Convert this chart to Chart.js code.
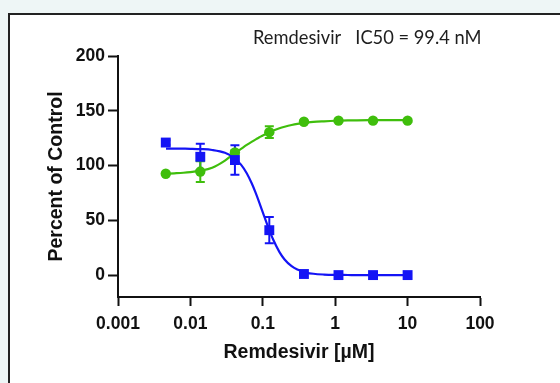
<!DOCTYPE html>
<html>
<head>
<meta charset="utf-8">
<script src="https://cdn.jsdelivr.net/npm/chart.js@4.4.1/dist/chart.umd.min.js"></script>
<style>
    body { margin: 0; width: 560px; height: 383px; overflow: hidden; position: relative; background: #eef6f6; }
    #frame { position: absolute; left: 8px; top: 13px; width: 620px; height: 420px; background: #fff; border-left: 2px solid #222; border-top: 2px solid #222; }
    #chart { position: absolute; left: 0; top: 0; }
</style>
</head>
<body>
<div id="frame"></div>
<canvas id="chart" width="560" height="383"></canvas>
<script>
// concentrations (uM) and measured responses, mean +/- error
var conc = [0.00457, 0.0137, 0.0412, 0.123, 0.370, 1.11, 3.33, 10];
var remdesivir = [121, 108, 105, 41, 1, 0, 0, 0];
var remdesivirErr = [2, 12, 13.5, 12, 0, 0, 0, 0];
var viability = [92.5, 94.5, 112, 130.5, 140, 141, 141, 141];
var viabilityErr = [0, 9.5, 2, 5.3, 1, 0, 0, 0];

// fitted curves, sampled along the concentration axis
var fitConc = [0.0046, 0.006, 0.008, 0.01, 0.014, 0.02, 0.03, 0.04, 0.05, 0.06, 0.07, 0.08, 0.09, 0.1,
    0.12, 0.14, 0.17, 0.2, 0.25, 0.3, 0.4, 0.5, 0.7, 1, 1.5, 2, 3, 5, 7, 10];
var remdesivirFit = [115.5, 115.5, 115.4, 115.3, 115.0, 114.2, 111.6, 107.1, 100.8, 92.9, 84.0, 74.8, 65.7, 57.3,
    42.9, 32.0, 21.0, 14.3, 8.1, 5.0, 2.3, 1.2, 0.5, 0.2, 0.1, 0, 0, 0, 0, 0];
var viabilityFit = [92.5, 92.9, 93.4, 94.0, 95.3, 98.0, 104.5, 110.8, 115.2, 118.8, 121.6, 123.9, 125.8, 127.5,
    130.0, 131.9, 134.0, 135.4, 137.0, 138.0, 139.1, 139.8, 140.4, 140.9, 141.2, 141.3, 141.4, 141.5, 141.5, 141.5];

var xTicks = [0.001, 0.01, 0.1, 1, 10, 100];
var xTickLabels = ['0.001', '0.01', '0.1', '1', '10', '100'];
var yTicks = [0, 50, 100, 150, 200];

var BLUE = '#1414f5';
var GREEN = '#3fbe0c';

function points(xs, ys) {
    return xs.map(function(x, i) { return { x: x, y: ys[i] }; });
}

// vertical error bars with caps, drawn under the markers
var errorBars = {
    id: 'errorBars',
    beforeDatasetsDraw: function(chart) {
        var ctx = chart.ctx;
        var xs = chart.scales.x, ys = chart.scales.y;
        chart.data.datasets.forEach(function(ds) {
            if (!ds.errors) return;
            ctx.save();
            ctx.strokeStyle = ds.borderColor;
            ctx.lineWidth = 2;
            ds.data.forEach(function(p, i) {
                var e = ds.errors[i];
                if (!e) return;
                var px = xs.getPixelForValue(p.x);
                var top = ys.getPixelForValue(p.y + e);
                var bot = ys.getPixelForValue(p.y - e);
                ctx.beginPath();
                ctx.moveTo(px, top); ctx.lineTo(px, bot);
                ctx.moveTo(px - 4.5, top); ctx.lineTo(px + 4.5, top);
                ctx.moveTo(px - 4.5, bot); ctx.lineTo(px + 4.5, bot);
                ctx.stroke();
            });
            ctx.restore();
        });
    }
};

var headline = {
    id: 'headline',
    afterDraw: function(chart) {
        var ctx = chart.ctx;
        ctx.save();
        ctx.font = '18.3px Lato';
        ctx.fillStyle = '#1e1e1e';
        ctx.textAlign = 'left';
        ctx.textBaseline = 'middle';
        ctx.fillText('Remdesivir   IC50 = 99.4 nM', 253, 38);
        ctx.restore();
    }
};

var axisFont = { family: 'Liberation Sans, Arial, sans-serif', weight: 'bold' };

new Chart(document.getElementById('chart').getContext('2d'), {
    type: 'scatter',
    data: {
        datasets: [{
            data: points(conc, remdesivir),
            errors: remdesivirErr,
            pointStyle: 'rect',
            pointRadius: 7,
            backgroundColor: BLUE,
            borderColor: BLUE,
            borderWidth: 0,
            order: 0
        }, {
            data: points(conc, viability),
            errors: viabilityErr,
            pointStyle: 'circle',
            pointRadius: 5.2,
            backgroundColor: GREEN,
            borderColor: GREEN,
            borderWidth: 0,
            order: 1
        }, {
            type: 'line',
            data: points(fitConc, remdesivirFit),
            borderColor: BLUE,
            borderWidth: 2.2,
            pointRadius: 0,
            cubicInterpolationMode: 'monotone',
            order: 2
        }, {
            type: 'line',
            data: points(fitConc, viabilityFit),
            borderColor: GREEN,
            borderWidth: 2.2,
            pointRadius: 0,
            cubicInterpolationMode: 'monotone',
            order: 3
        }]
    },
    options: {
        responsive: false,
        animation: false,
        layout: { padding: { left: 0, top: 56, right: 80, bottom: 0 } },
        plugins: { legend: { display: false }, tooltip: { enabled: false } },
        scales: {
            x: {
                type: 'logarithmic',
                min: 0.001,
                max: 100,
                afterBuildTicks: function(scale) {
                    scale.ticks = xTicks.map(function(v) { return { value: v }; });
                },
                afterFit: function(scale) { scale.height = 86; },
                ticks: {
                    autoSkip: false,
                    maxRotation: 0,
                    padding: 8,
                    color: '#111',
                    font: Object.assign({ size: 17.5 }, axisFont),
                    callback: function(value, index) { return xTickLabels[index]; }
                },
                grid: { drawOnChartArea: false, tickLength: 9, tickWidth: 2, tickColor: '#111' },
                border: { color: '#111', width: 2 },
                title: {
                    display: true,
                    text: 'Remdesivir [\u00b5M]',
                    color: '#111',
                    font: Object.assign({ size: 19.5 }, axisFont),
                    padding: { top: 0, bottom: 19 }
                }
            },
            y: {
                min: -20,
                max: 200,
                afterBuildTicks: function(scale) {
                    scale.ticks = yTicks.map(function(v) { return { value: v }; });
                },
                afterFit: function(scale) { scale.width = 118; },
                ticks: {
                    padding: 3,
                    color: '#111',
                    font: Object.assign({ size: 17.5 }, axisFont)
                },
                grid: { drawOnChartArea: false, tickLength: 10, tickWidth: 2, tickColor: '#111' },
                border: { color: '#111', width: 2 },
                title: {
                    display: true,
                    text: 'Percent of Control',
                    color: '#111',
                    font: Object.assign({ size: 19.5 }, axisFont),
                    padding: { top: 45, bottom: 0 }
                }
            }
        }
    },
    plugins: [errorBars, headline]
});
</script>
</body>
</html>
